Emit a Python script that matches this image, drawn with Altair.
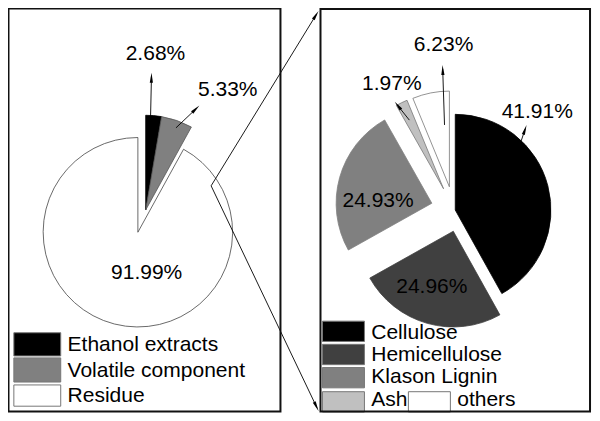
import math
import altair as alt
import pandas as pd

# ---------------- data ----------------
left_labels = ["Ethanol extracts", "Volatile component", "Residue"]
left_values = [2.68, 5.33, 91.99]
left_colors = ["#000000", "#808080", "#ffffff"]

right_labels = ["Cellulose", "Hemicellulose", "Klason Lignin", "Ash", "others"]
right_values = [41.91, 24.96, 24.93, 1.97, 6.23]
right_colors = ["#000000", "#404040", "#808080", "#c0c0c0", "#ffffff"]

# ---------------- layout (reference pixel space) ----------------
SX = 583 / 597
SY = 404 / 418
FONT = "Liberation Sans"
FS = 21


def T(x, y):
    return ((x - 1) * SX, (y - 1) * SY)


left_center = (134, 233)
left_radius = 97
left_offsets = [(8, -23), (8, -23), (0, 0)]
left_strokes = ["#000000", "#555555", "#444444"]

right_center = (447, 210)
right_radius = 98
right_offsets = [(12, 0), (10, 22), (-12, -7), (0, -22), (6, -24)]
right_strokes = ["#000000", "#404040", "#808080", "#777777", "#777777"]

# label positions (centres) for the percentages, in slice order
left_label_pos = [(152, 49), (226, 86), (143, 275)]
right_label_pos = [(543, 109), (435, 290), (380, 201), (394, 80), (447, 39)]

# arrows (base -> tip)
arrows = [
    ((147, 113), (148, 68)),
    ((173, 125), (197, 102)),
    ((448, 122), (446, 60)),
    ((412, 117), (397, 98)),
    ((526, 140), (532, 122)),
    ((209, 185), (319, 4)),
    ((209, 185), (319, 418)),
]

boxes = [((1.5, 1.5), (280, 418.5)), ((321, 2), (597, 418.5))]

left_legend_boxes = [((7, 337), (55, 361)), ((7, 363), (55, 388)), ((7, 391), (55, 413))]
left_legend_text = [(62, 356), (62, 383), (62, 409)]
right_legend_boxes = [((323, 325), (366, 346)), ((323, 349), (366, 370)),
                      ((323, 373), (366, 394)), ((323, 398), (366, 419)),
                      ((411, 398), (454, 419))]
right_legend_text = [(373, 343), (373, 366), (373, 389), (373, 413), (461, 413)]


def pie_rows(values, colors, strokes, center, offsets):
    total = sum(values)
    rows = []
    acc = 0.0
    for v, c, s, off in zip(values, colors, strokes, offsets):
        a0 = acc / total * 2 * math.pi
        acc += v
        a1 = acc / total * 2 * math.pi
        px, py = T(center[0] + off[0], center[1] + off[1])
        rows.append({"t0": a0, "t1": a1, "px": px, "py": py, "fill": c, "stroke": s})
    return rows


pie_df = pd.DataFrame(
    pie_rows(left_values, left_colors, left_strokes, left_center, left_offsets)
    + pie_rows(right_values, right_colors, right_strokes, right_center, right_offsets)
)
pie_df["r"] = [left_radius * SX] * 3 + [right_radius * SX] * 5

pies = alt.Chart(pie_df).mark_arc(strokeWidth=0.8).encode(
    x=alt.X("px:Q", scale=None),
    y=alt.Y("py:Q", scale=None),
    theta=alt.Theta("t0:Q", scale=None),
    theta2="t1:Q",
    radius=alt.Radius("r:Q", scale=None),
    fill=alt.Fill("fill:N", scale=None),
    stroke=alt.Stroke("stroke:N", scale=None),
)

# percentage labels
lab_rows = []
for v, p in zip(left_values + right_values, left_label_pos + right_label_pos):
    x, y = T(*p)
    lab_rows.append({"x": x, "y": y, "t": f"{v:.2f}%"})
labels = alt.Chart(pd.DataFrame(lab_rows)).mark_text(
    font=FONT, fontSize=FS, baseline="middle", align="center", color="#000000"
).encode(x=alt.X("x:Q", scale=None), y=alt.Y("y:Q", scale=None), text="t:N")

# arrows
sh_rows, hd_rows = [], []
for (b, t) in arrows:
    bx, by = T(*b)
    tx, ty = T(*t)
    dx, dy = tx - bx, ty - by
    L = math.hypot(dx, dy)
    ux, uy = dx / L, dy / L
    hl = 10
    sh_rows.append({"x": bx, "y": by, "x2": tx - ux * 4, "y2": ty - uy * 4})
    ang = math.degrees(math.atan2(dx, -dy)) % 360
    hd_rows.append({"x": tx - ux * hl / 2, "y": ty - uy * hl / 2, "a": ang})
shafts = alt.Chart(pd.DataFrame(sh_rows)).mark_rule(color="#000000", strokeWidth=0.9).encode(
    x=alt.X("x:Q", scale=None), y=alt.Y("y:Q", scale=None),
    x2="x2:Q", y2="y2:Q",
)
heads = alt.Chart(pd.DataFrame(hd_rows)).mark_point(
    shape="M0,-1L0.32,1L-0.32,1Z", filled=True, color="#000000", size=100, opacity=1
).encode(
    x=alt.X("x:Q", scale=None), y=alt.Y("y:Q", scale=None),
    angle=alt.Angle("a:Q", scale=None),
)

# legends
lg_rows = []
for (p0, p1), c in zip(left_legend_boxes + right_legend_boxes, left_colors + right_colors):
    x0, y0 = T(*p0)
    x1, y1 = T(*p1)
    lg_rows.append({"x": x0, "y": y0, "x2": x1, "y2": y1, "fill": c})
swatches = alt.Chart(pd.DataFrame(lg_rows)).mark_rect(stroke="#777777", strokeWidth=1).encode(
    x=alt.X("x:Q", scale=None), y=alt.Y("y:Q", scale=None),
    x2="x2:Q", y2="y2:Q", fill=alt.Fill("fill:N", scale=None),
)
lt_rows = []
for p, t in zip(left_legend_text + right_legend_text, left_labels + right_labels):
    x, y = T(*p)
    lt_rows.append({"x": x, "y": y, "t": t})
legend_text = alt.Chart(pd.DataFrame(lt_rows)).mark_text(
    font=FONT, fontSize=FS, baseline="alphabetic", align="left", color="#000000"
).encode(x=alt.X("x:Q", scale=None), y=alt.Y("y:Q", scale=None), text="t:N")

# frames
bx_rows = []
for p0, p1 in boxes:
    x0, y0 = T(*p0)
    x1, y1 = T(*p1)
    bx_rows.append({"x": x0, "y": y0, "x2": x1, "y2": y1})
frames = alt.Chart(pd.DataFrame(bx_rows)).mark_rect(
    fill=None, stroke="#111111", strokeWidth=2
).encode(
    x=alt.X("x:Q", scale=None), y=alt.Y("y:Q", scale=None), x2="x2:Q", y2="y2:Q"
)

chart = alt.layer(pies, swatches, labels, legend_text, shafts, heads, frames).properties(
    width=584, height=405, autosize="none", padding=0
).configure_view(stroke=None)

chart.save("out.html", embed_options={"renderer": "svg", "actions": False})
